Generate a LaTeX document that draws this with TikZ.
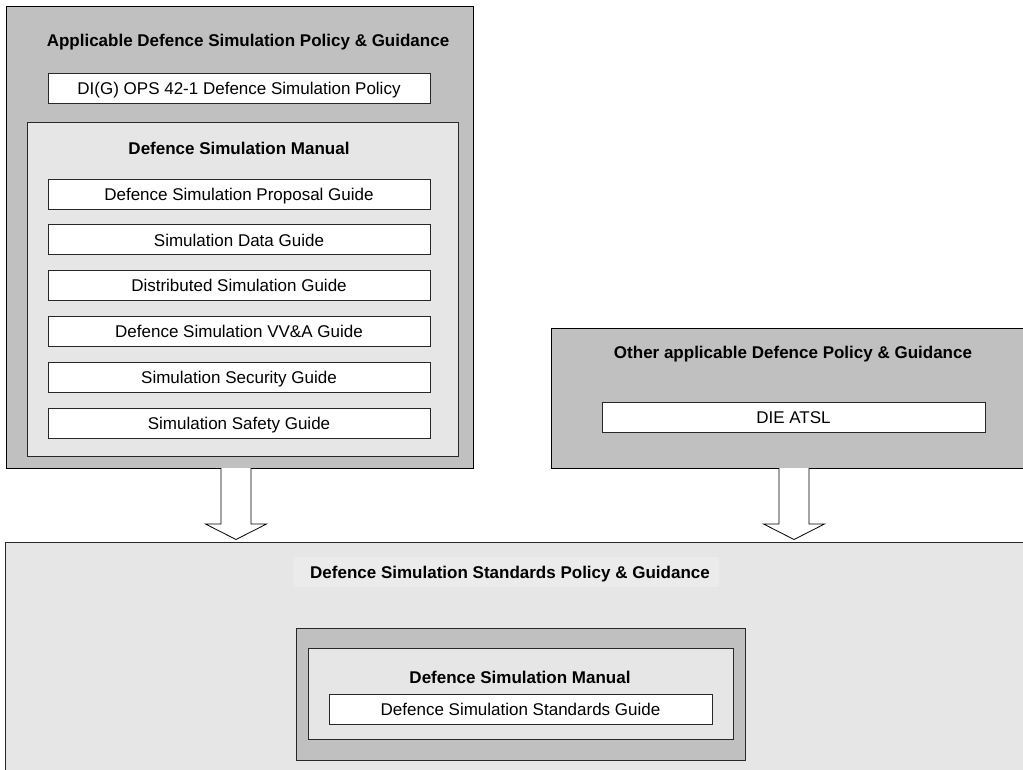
\documentclass[tikz,border=0pt]{standalone}
\usepackage{fontspec}
\setmainfont{Liberation Sans}
\usetikzlibrary{calc}
\definecolor{darkfill}{RGB}{192,192,192}
\definecolor{lightfill}{RGB}{230,230,230}
\definecolor{patchfill}{RGB}{235,235,235}
\definecolor{edge}{RGB}{40,40,40}

\begin{document}
\begin{tikzpicture}[x=1pt,y=-1pt,
  every node/.style={inner sep=0pt, outer sep=0pt},
  panel/.style={draw=black, line width=1pt, anchor=north west},
  outerpanel/.style={panel, fill=darkfill},
  innerpanel/.style={panel, draw=edge, fill=lightfill},
  docbox/.style={panel, draw=edge, fill=white, minimum width=382pt, minimum height=30pt,
                 font=\fontsize{17}{20}\selectfont, text height=12.5pt, text depth=0pt},
  heading/.style={font=\fontsize{17}{20}\selectfont\bfseries, text height=12.5pt, text depth=0pt},
  blockarrow/.style={draw=black, line width=0.8pt, fill=white, line join=miter}
]
\useasboundingbox (0,0) rectangle (1023,769);
\begin{scope}
\clip (0,0) rectangle (1023,769);

% ---------- Applicable Defence Simulation Policy & Guidance ----------
\node[outerpanel, minimum width=467pt, minimum height=462pt] (policy) at (6,6) {};
\node[heading] (policyT) at (248,40) {Applicable Defence Simulation Policy \& Guidance};
\node[docbox] (dig) at (48,73) {DI(G) OPS 42-1 Defence Simulation Policy};

\node[innerpanel, minimum width=431pt, minimum height=334pt] (dsm) at (27,122) {};
\node[heading] (dsmT) at (239,148) {Defence Simulation Manual};
\node[docbox] (g1) at (48,179)   {Defence Simulation Proposal Guide};
\node[docbox] (g2) at (48,224.8) {Simulation Data Guide};
\node[docbox] (g3) at (48,270.6) {Distributed Simulation Guide};
\node[docbox] (g4) at (48,316.4) {Defence Simulation VV\&A Guide};
\node[docbox] (g5) at (48,362.2) {Simulation Security Guide};
\node[docbox] (g6) at (48,408)   {Simulation Safety Guide};

% ---------- Other applicable Defence Policy & Guidance ----------
\node[outerpanel, minimum width=480pt, minimum height=140pt] (other) at (551,328) {};
\node[heading] (otherT) at (793,352) {Other applicable Defence Policy \& Guidance};
\node[docbox, minimum width=383pt] (atsl) at (602,402) {DIE ATSL};

% ---------- Defence Simulation Standards Policy & Guidance ----------
\node[panel, draw=edge, fill=lightfill, minimum width=1030pt, minimum height=240pt] (standards) at (5,542) {};
\node[fill=patchfill, minimum width=426pt, minimum height=30pt] (standardsP) at (506,572) {};
\node[heading] (standardsT) at (510,572) {Defence Simulation Standards Policy \& Guidance};

\node[outerpanel, draw=edge, minimum width=449pt, minimum height=132pt] (dsmHolder) at (296,628) {};
\node[innerpanel, minimum width=425pt, minimum height=91pt] (dsm2) at (308,648) {};
\node[heading] (dsm2T) at (520,677) {Defence Simulation Manual};
\node[docbox, minimum width=383pt] (stdguide) at (329,694) {Defence Simulation Standards Guide};

% ---------- block arrows feeding the standards panel ----------
\coordinate (a1) at (policy.south -| 236,0);
\coordinate (a2) at (other.south -| 794,0);
\draw[blockarrow] (a1) ++(-15,0) -- ++(0,56) -- ++(-15.5,0) -- ++(30.5,15.5)
      -- ++(30.5,-15.5) -- ++(-15.5,0) -- ++(0,-56);
\draw[blockarrow] (a2) ++(-15,0) -- ++(0,56) -- ++(-15.5,0) -- ++(30.5,15.5)
      -- ++(30.5,-15.5) -- ++(-15.5,0) -- ++(0,-56);
\end{scope}
\end{tikzpicture}
\end{document}
